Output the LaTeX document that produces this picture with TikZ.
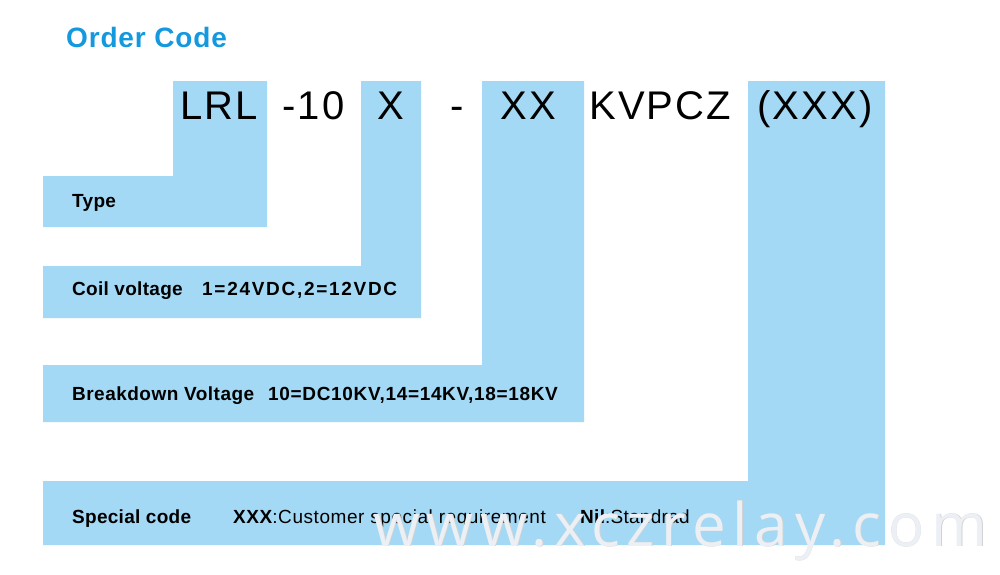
\documentclass[tikz,border=0pt]{standalone}
\usepackage{fontspec}
\setmainfont{Liberation Sans}
\newfontfamily\wmfont{Open Sans}
\definecolor{codeblue}{RGB}{163,217,245}
\definecolor{titleblue}{RGB}{20,152,222}
\definecolor{wmgray}{RGB}{236,240,244}
\begin{document}
\begin{tikzpicture}[x=1pt, y=-1pt,
  big/.style={anchor=base west, inner sep=0pt, font=\fontsize{40}{48}\selectfont\addfontfeatures{LetterSpace=5.5}},
  lbl/.style={anchor=base west, inner sep=0pt, font=\fontsize{19}{22}\selectfont\bfseries\addfontfeatures{LetterSpace=#1}},
  lbl/.default=1.5,
  wm/.style={anchor=base west, inner sep=0pt, font=\wmfont\fontsize{60}{70}\selectfont\addfontfeatures{LetterSpace=11.5}}]
\useasboundingbox (0,0) rectangle (1000,574);

% blue L-shapes, one per code field
\fill[codeblue] (173,81)--(267,81)--(267,227)--(43,227)--(43,176)--(173,176)--cycle;
\fill[codeblue] (361,81)--(421,81)--(421,318)--(43,318)--(43,266)--(361,266)--cycle;
\fill[codeblue] (482,81)--(584,81)--(584,422)--(43,422)--(43,365)--(482,365)--cycle;
\fill[codeblue] (748,81)--(885,81)--(885,545)--(43,545)--(43,481)--(748,481)--cycle;

\node[anchor=base west, inner sep=0pt, text=titleblue, font=\fontsize{28}{32}\selectfont\bfseries\addfontfeatures{LetterSpace=3}] (title) at (66,47) {Order Code};

% the code itself
\node[big] (lrl)   at (180,119) {LRL};
\node[big] (ten)   at (282,119) {-10};
\node[big] (coil)  at (377,119) {X};
\node[big] (dash)  at (450,119) {-};
\node[big] (bv)    at (500,119) {XX};
\node[big] (fixed) at (589,119) {KVPCZ};
\node[big] (spec)  at (757,119) {(XXX)};

% field descriptions
\node[lbl] (type)  at (72,207) {Type};
\node[lbl] (coilname) at (72,295) {Coil voltage};
\node[lbl=9] (coilval)  at (202,295) {1=24VDC,2=12VDC};
\node[lbl=2.5] (bvname)   at (72,400) {Breakdown Voltage};
\node[lbl=3.5] (bvval)    at (268,400) {10=DC10KV,14=14KV,18=18KV};
\node[lbl] (specname) at (72,523) {Special code};
\node[lbl=3] (specval)  at (233,523) {XXX\mdseries:Customer special requirement};
\node[lbl] (specnil)  at (580,523) {Nil\mdseries:Standrad};

% watermark
\node[wm, text=gray!35] (wmshade) at (373.8,546.8) {www.xczrelay.com};
\node[wm, text=wmgray] (wmtext) at (373,546) {www.xczrelay.com};
\end{tikzpicture}
\end{document}
